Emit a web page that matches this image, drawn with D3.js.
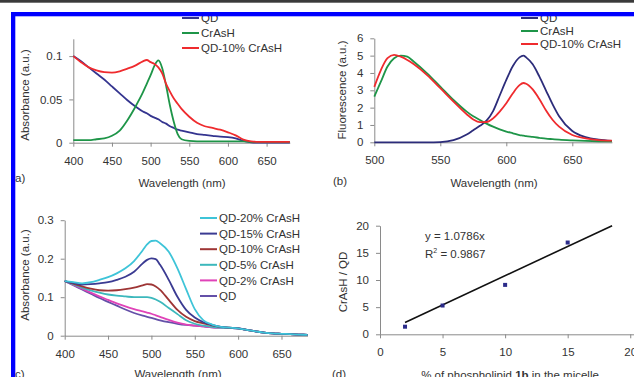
<!DOCTYPE html>
<html>
<head>
<meta charset="utf-8">
<script src="https://cdn.jsdelivr.net/npm/d3@7/dist/d3.min.js"></script>
<style>
  body { margin: 0; background: #fff; }
  svg { display: block; font-family: "Liberation Sans", Arial, sans-serif; }
  .axis path, .axis line { stroke: #8a8a8a; }
  .axis text { font-size: 11.5px; fill: #333; font-family: "Liberation Sans", Arial, sans-serif; }
</style>
</head>
<body>
<div id="chart"></div>
<script>
// ---- panel a: absorbance ----
var wlA = [400,410,420,430,440,450,460,470,480,490,495,500,505,510,515,520,525,530,535,540,550,560,570,580,590,600,610,620,630,640,650,660,670,680];
var qdA = [0.100,0.094,0.087,0.080,0.073,0.065,0.057,0.049,0.042,0.036,0.034,0.031,0.029,0.027,0.024,0.022,0.019,0.017,0.015,0.014,0.012,0.010,0.009,0.008,0.007,0.0065,0.005,0.002,0.0005,0,0,0,0,0];
var crA = [0.003,0.003,0.003,0.004,0.005,0.008,0.014,0.026,0.041,0.058,0.068,0.078,0.089,0.095,0.086,0.066,0.043,0.024,0.010,0.004,0.002,0.0015,0.0015,0.0015,0.0015,0.0015,0.0015,0.0015,0.001,0.001,0.001,0.001,0.001,0.001];
var mixA = [0.100,0.093,0.087,0.0835,0.0815,0.081,0.0825,0.0855,0.089,0.094,0.0955,0.093,0.091,0.087,0.080,0.068,0.059,0.051,0.045,0.039,0.030,0.023,0.019,0.017,0.015,0.012,0.0085,0.0035,0.0015,0.001,0.001,0.001,0.001,0.001];

// ---- panel b: fluorescence ----
var wlB = [500,505,510,515,520,525,530,540,550,560,570,575,580,585,590,595,600,605,610,613,615,620,625,630,635,640,650,660,670,680];
var qdB = [0,0,0,0,0,0,0,0,0.01,0.12,0.45,0.7,0.95,1.25,1.8,2.7,3.6,4.4,4.9,5.0,4.9,4.5,3.8,3.0,2.2,1.5,0.65,0.3,0.15,0.08];
var crB = [2.63,3.5,4.37,4.85,5.0,4.94,4.65,3.98,3.21,2.44,1.77,1.5,1.29,1.08,0.9,0.75,0.62,0.52,0.42,0.38,0.35,0.31,0.26,0.21,0.18,0.15,0.11,0.08,0.06,0.05];
var mixB = [3.2,4.17,4.85,5.04,4.94,4.75,4.5,3.88,3.12,2.35,1.62,1.32,1.16,1.17,1.38,1.77,2.25,2.83,3.3,3.42,3.38,3.05,2.5,1.85,1.3,0.9,0.42,0.23,0.13,0.1];

// ---- panel c: absorbance vs CrAsH loading ----
var wlC = [400,410,420,430,440,450,460,470,480,490,495,500,505,510,520,530,540,550,560,570,580,590,600,610,620,630,640,650,660,670,680];
var qd20C = [0.142,0.139,0.136,0.139,0.145,0.152,0.162,0.175,0.194,0.222,0.237,0.246,0.247,0.240,0.218,0.175,0.121,0.069,0.040,0.029,0.023,0.021,0.019,0.015,0.011,0.008,0.006,0.005,0.004,0.003,0.002];
var qd15C = [0.142,0.137,0.133,0.134,0.136,0.139,0.145,0.153,0.166,0.188,0.197,0.201,0.199,0.184,0.145,0.101,0.067,0.047,0.035,0.028,0.023,0.021,0.019,0.015,0.011,0.008,0.006,0.005,0.004,0.003,0.002];
var qd10C = [0.142,0.135,0.128,0.122,0.118,0.117,0.118,0.121,0.125,0.131,0.134,0.133,0.128,0.119,0.093,0.067,0.049,0.038,0.032,0.027,0.023,0.021,0.019,0.015,0.011,0.008,0.006,0.005,0.004,0.003,0.002];
var qd5C = [0.142,0.133,0.125,0.118,0.112,0.107,0.104,0.102,0.100,0.100,0.100,0.098,0.094,0.088,0.072,0.056,0.040,0.031,0.026,0.023,0.021,0.020,0.019,0.015,0.011,0.008,0.006,0.005,0.004,0.003,0.002];
var qd2C = [0.142,0.132,0.122,0.112,0.102,0.093,0.084,0.076,0.069,0.063,0.060,0.057,0.053,0.049,0.041,0.034,0.029,0.026,0.024,0.022,0.021,0.020,0.019,0.015,0.011,0.008,0.006,0.005,0.004,0.003,0.002];
var qdC = [0.142,0.131,0.120,0.109,0.098,0.088,0.078,0.068,0.059,0.052,0.049,0.046,0.043,0.040,0.035,0.031,0.028,0.026,0.024,0.022,0.021,0.020,0.019,0.015,0.011,0.008,0.006,0.005,0.004,0.003,0.002];

// ---- panel d: ratio vs phospholipid ----
var pctD = [2,5,10,15];
var ratioD = [1.4,5.3,9.1,16.9];
var slopeD = 1.0786;
var fitRangeD = [2, 18.55];

var svg = d3.select("#chart").append("svg").attr("width", 634).attr("height", 377);

function makeAxes(xs, ys, xTicks, yTicks) {
    var h = ys.range()[0];
    svg.append("g").attr("class", "axis").attr("transform", "translate(0," + h + ")")
        .call(d3.axisBottom(xs).tickValues(xTicks).tickSize(4).tickPadding(10).tickSizeOuter(0));
    svg.append("g").attr("class", "axis").attr("transform", "translate(" + xs.range()[0] + ",0)")
        .call(d3.axisLeft(ys).tickValues(yTicks).tickFormat(function (d) { return String(d); }).tickSize(4).tickPadding(7).tickSizeOuter(0));
}

function drawSeries(xs, ys, wl, vals, color) {
    var line = d3.line().x(function (d, i) { return xs(wl[i]); }).y(function (d) { return ys(d); }).curve(d3.curveMonotoneX);
    svg.append("path").attr("d", line(vals)).attr("fill", "none").attr("stroke", color).attr("stroke-width", 1.8);
}

function legend(x, y0, step, names, colors) {
    names.forEach(function (n, i) {
        var y = y0 + i * step;
        svg.append("line").attr("x1", x).attr("x2", x + 17).attr("y1", y).attr("y2", y).attr("stroke", colors[i]).attr("stroke-width", 2);
        svg.append("text").attr("x", x + 19).attr("y", y).attr("dy", "0.36em").text(n).style("font-size", "11.5px").style("fill", "#333");
    });
}

function label(txt, x, y, anchor, rot) {
    var t = svg.append("text").text(txt).style("font-size", "11.5px").style("fill", "#333").attr("text-anchor", anchor || "start");
    if (rot) t.attr("transform", "translate(" + x + "," + y + ") rotate(-90)").attr("dy", "0.35em");
    else t.attr("x", x).attr("y", y);
    return t;
}

var navy = "#34348f", green = "#1e9548", red = "#ef2b2e";

// panel a
var xa = d3.scaleLinear().domain([400, 680]).range([73.3, 289.8]);
var ya = d3.scaleLinear().domain([0, 0.12]).range([142.7, 38.8]);
makeAxes(xa, ya, [400,450,500,550,600,650], [0,0.05,0.1]);
drawSeries(xa, ya, wlA, qdA, navy);
drawSeries(xa, ya, wlA, crA, green);
drawSeries(xa, ya, wlA, mixA, red);
legend(182, 18, 15, ["QD", "CrAsH", "QD-10% CrAsH"], [navy, green, red]);
label("Absorbance (a.u.)", 25, 95, "middle", true);
label("Wavelength (nm)", 182, 187, "middle");
label("a)", 15, 182);

// panel b
var xb = d3.scaleLinear().domain([500, 680]).range([374.3, 611.9]);
var yb = d3.scaleLinear().domain([0, 6]).range([142.3, 38.3]);
makeAxes(xb, yb, [500,550,600,650], [0,1,2,3,4,5,6]);
drawSeries(xb, yb, wlB, qdB, "#2c2c7a");
drawSeries(xb, yb, wlB, crB, green);
drawSeries(xb, yb, wlB, mixB, red);
legend(521, 18, 13, ["QD", "CrAsH", "QD-10% CrAsH"], ["#2c2c7a", green, red]);
label("Fluorescence (a.u.)", 342, 90, "middle", true);
label("Wavelength (nm)", 494, 187, "middle");
label("(b)", 333, 185);

// panel c
var xc = d3.scaleLinear().domain([400, 680]).range([64.7, 307.5]);
var yc = d3.scaleLinear().domain([0, 0.3]).range([335.7, 220.2]);
makeAxes(xc, yc, [400,450,500,550,600,650], [0,0.1,0.2,0.3]);
var namesC = ["QD-20% CrAsH", "QD-15% CrAsH", "QD-10% CrAsH", "QD-5% CrAsH", "QD-2% CrAsH", "QD"];
var colorsC = ["#3ec4d8", "#3b3b92", "#9e3535", "#3cb8bc", "#e043b8", "#6450a8"];
var seriesC = [qd20C, qd15C, qd10C, qd5C, qd2C, qdC];
seriesC.slice().reverse().forEach(function (s, i) { drawSeries(xc, yc, wlC, s, colorsC[5 - i]); });
legend(200, 218, 15.6, namesC, colorsC);
label("Absorbance (a.u.)", 25, 275, "middle", true);
label("Wavelength (nm)", 178, 378, "middle");
label("c)", 15, 378);

// panel d
var xd = d3.scaleLinear().domain([0, 20.3]).range([380, 634]);
var yd = d3.scaleLinear().domain([0, 20]).range([334.3, 225.7]);
makeAxes(xd, yd, [0,5,10,15,20], [0,5,10,15,20]);
svg.append("line").attr("x1", xd(fitRangeD[0])).attr("y1", yd(slopeD * fitRangeD[0]))
    .attr("x2", xd(fitRangeD[1])).attr("y2", yd(slopeD * fitRangeD[1])).attr("stroke", "#111").attr("stroke-width", 1.6);
svg.selectAll("pts").data(pctD).enter().append("rect")
    .attr("x", function (d) { return xd(d) - 2; }).attr("y", function (d, i) { return yd(ratioD[i]) - 2; })
    .attr("width", 4).attr("height", 4).attr("fill", "#2b2b8a");
label("y = 1.0786x", 425, 240);
var r2 = label("R", 425, 258);
r2.append("tspan").text("2").attr("dy", -5).style("font-size", "7px");
r2.append("tspan").text(" = 0.9867").attr("dy", 5);
label("CrAsH / QD", 343, 282, "middle", true);
var xl = label("% of phospholipid ", 510, 379, "middle");
xl.append("tspan").text("1b").style("font-weight", "bold");
xl.append("tspan").text(" in the micelle");
label("(d)", 332, 378);

// frame: dark top rule and blue border
svg.append("rect").attr("x", 0).attr("y", 0).attr("width", 634).attr("height", 2.7).attr("fill", "#3a3a3a");
svg.append("rect").attr("x", 11).attr("y", 12).attr("width", 623).attr("height", 4.3).attr("fill", "#0000ff");
svg.append("rect").attr("x", 11).attr("y", 12).attr("width", 4.3).attr("height", 365).attr("fill", "#0000ff");
</script>
</body>
</html>
